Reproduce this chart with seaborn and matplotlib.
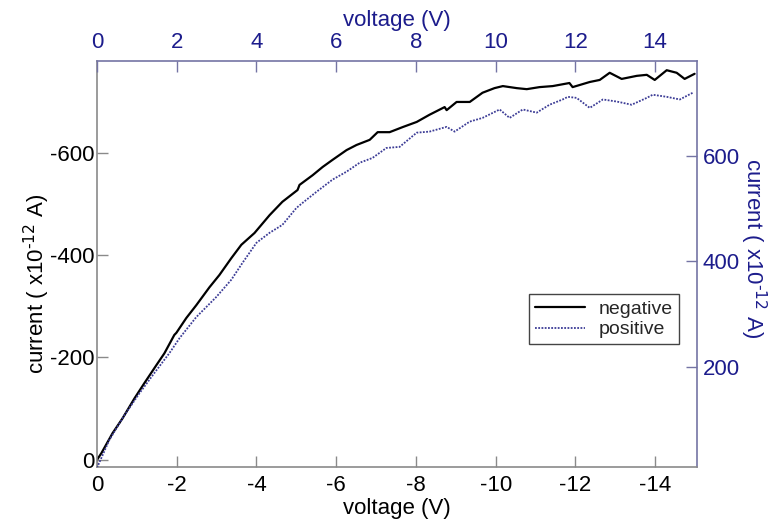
import matplotlib
matplotlib.use("Agg")
import matplotlib.pyplot as plt
from matplotlib.lines import Line2D
import seaborn as sns
import pandas as pd

# ---- data ----
neg_voltage = [0, -0.11, -0.39, -0.64, -0.94, -1.19, -1.49, -1.69, -1.94, -1.99, -2.24, -2.49,
               -2.82, -3.07, -3.37, -3.62, -3.95, -4.33, -4.65, -5.03, -5.08, -5.41, -5.66,
               -5.91, -6.26, -6.51, -6.84, -7.04, -7.34, -7.67, -8.02, -8.34, -8.72, -8.77,
               -9.02, -9.35, -9.67, -9.97, -10.18, -10.53, -10.78, -11.1, -11.43, -11.85,
               -11.93, -12.36, -12.61, -12.86, -13.16, -13.54, -13.79, -13.99, -14.29,
               -14.54, -14.74, -14.99]
neg_current = [0, -13, -52, -81, -120, -150, -185, -208, -244, -248, -277, -302,
               -337, -361, -394, -420, -443, -478, -504, -527, -537, -556, -572,
               -586, -605, -615, -625, -640, -640, -650, -660, -674, -689, -683,
               -699, -699, -717, -726, -730, -726, -724, -728, -730, -736,
               -728, -738, -742, -756, -744, -750, -752, -742, -761,
               -756, -744, -754]

pos_voltage = [0, 0.31, 0.69, 1.07, 1.44, 1.82, 2.07, 2.49, 2.99, 3.37, 3.65, 4.0, 4.33,
               4.65, 5.0, 5.16, 5.51, 5.91, 6.26, 6.59, 6.91, 7.26, 7.59, 8.02, 8.34,
               8.77, 8.97, 9.35, 9.67, 10.1, 10.35, 10.68, 11.03, 11.35, 11.68, 11.81,
               12.03, 12.36, 12.69, 13.04, 13.41, 13.79, 13.94, 14.29, 14.62, 14.95]
pos_current = [8, 61, 108, 150, 188, 226, 254, 294, 332, 365, 397, 435, 454,
               469, 501, 511, 532, 555, 570, 587, 596, 615, 617, 644, 646,
               655, 646, 665, 672, 688, 672, 688, 682, 697, 707, 712,
               710, 691, 707, 703, 697, 710, 716, 712, 707, 720]

bottom_ticks = [0, -2, -4, -6, -8, -10, -12, -14]
top_ticks = [0, 2, 4, 6, 8, 10, 12, 14]
left_ticks = [0, -200, -400, -600]
right_ticks = [200, 400, 600]

neg_df = pd.DataFrame({"voltage": neg_voltage, "current": neg_current})
pos_df = pd.DataFrame({"voltage": pos_voltage, "current": pos_current})

sns.set_style("ticks")
plt.rcParams["font.family"] = ["Liberation Sans", "DejaVu Sans"]
plt.rcParams["axes.unicode_minus"] = False

NAVY = "#1c1c8c"
BLUE_LINE = "#3c3c96"
GRAY = "#8a8a8a"
FRAME_BLUE = "#7474a4"
FS = 16

fig = plt.figure(figsize=(7.75, 5.24), dpi=100)
pos = [97 / 775, 1 - 467 / 524, 600 / 775, 406 / 524]
ax = fig.add_axes(pos)
ax2 = fig.add_axes(pos, frameon=False)

sns.lineplot(data=neg_df, x="voltage", y="current", ax=ax, color="black",
             linewidth=1.6, sort=False, estimator=None)
sns.lineplot(data=pos_df, x="voltage", y="current", ax=ax2, color=BLUE_LINE,
             linewidth=1.3, linestyle=(0, (1, 0.8)), sort=False, estimator=None)

ylabel_text = "current ( x10$^{\\text{-12}}$ A)"

# main (bottom/left) axes
ax.set_xlim(0, -15.05)
ax.set_ylim(14, -779)
ax.set_xticks(bottom_ticks)
ax.set_xticklabels([str(t) for t in bottom_ticks])
ax.set_yticks(left_ticks)
ax.set_yticklabels([str(t) for t in left_ticks])
ax.tick_params(axis="both", direction="in", length=8, width=1, colors=GRAY,
               labelcolor="black", labelsize=FS)
ax.tick_params(axis="x", pad=6)
ax.tick_params(axis="y", pad=2)
ax.set_xlabel("voltage (V)", fontsize=FS, color="black", labelpad=1)
ax.set_ylabel(ylabel_text, fontsize=FS, color="black")
ax.yaxis.label.set_ha("center")
ax.yaxis.label.set_va("center")
ax.yaxis.set_label_coords(-0.1, 0.45)
for s in ["left", "bottom"]:
    ax.spines[s].set_color(GRAY)
for s in ["top", "right"]:
    ax.spines[s].set_color(FRAME_BLUE)
    ax.spines[s].set_visible(True)
for s in ax.spines.values():
    s.set_linewidth(1.2)

# twin (top/right) axes
ax2.set_xlim(0, 15.05)
ax2.set_ylim(9.5, 780)
ax2.xaxis.set_ticks_position("top")
ax2.xaxis.set_label_position("top")
ax2.yaxis.set_ticks_position("right")
ax2.yaxis.set_label_position("right")
ax2.set_xticks(top_ticks)
ax2.set_xticklabels([str(t) for t in top_ticks])
ax2.set_yticks(right_ticks)
ax2.set_yticklabels([str(t) for t in right_ticks])
ax2.tick_params(axis="both", direction="in", length=8, width=1, colors=FRAME_BLUE,
                labelcolor=NAVY, labelsize=FS)
ax2.tick_params(axis="x", pad=6)
ax2.tick_params(axis="y", pad=4)
ax2.set_xlabel("voltage (V)", fontsize=FS, color=NAVY, labelpad=4)
ax2.set_ylabel(ylabel_text, fontsize=FS, color=NAVY, rotation=270)
ax2.yaxis.label.set_ha("center")
ax2.yaxis.label.set_va("center")
ax2.yaxis.set_label_coords(1.094, 0.54)
ax2.patch.set_visible(False)

handles = [Line2D([], [], color="black", linewidth=1.6),
           Line2D([], [], color=BLUE_LINE, linewidth=1.3, linestyle=(0, (1, 0.8)))]
leg = ax.legend(handles, ["negative", "positive"], loc="upper left",
                bbox_to_anchor=(0.72, 0.425), borderaxespad=0, fontsize=14,
                frameon=True, fancybox=False, edgecolor="#444444", framealpha=1,
                handlelength=2.6, borderpad=0.3, labelspacing=0.15,
                handletextpad=0.7)
leg.get_frame().set_linewidth(1.0)

fig.savefig("out.png", dpi=100)
